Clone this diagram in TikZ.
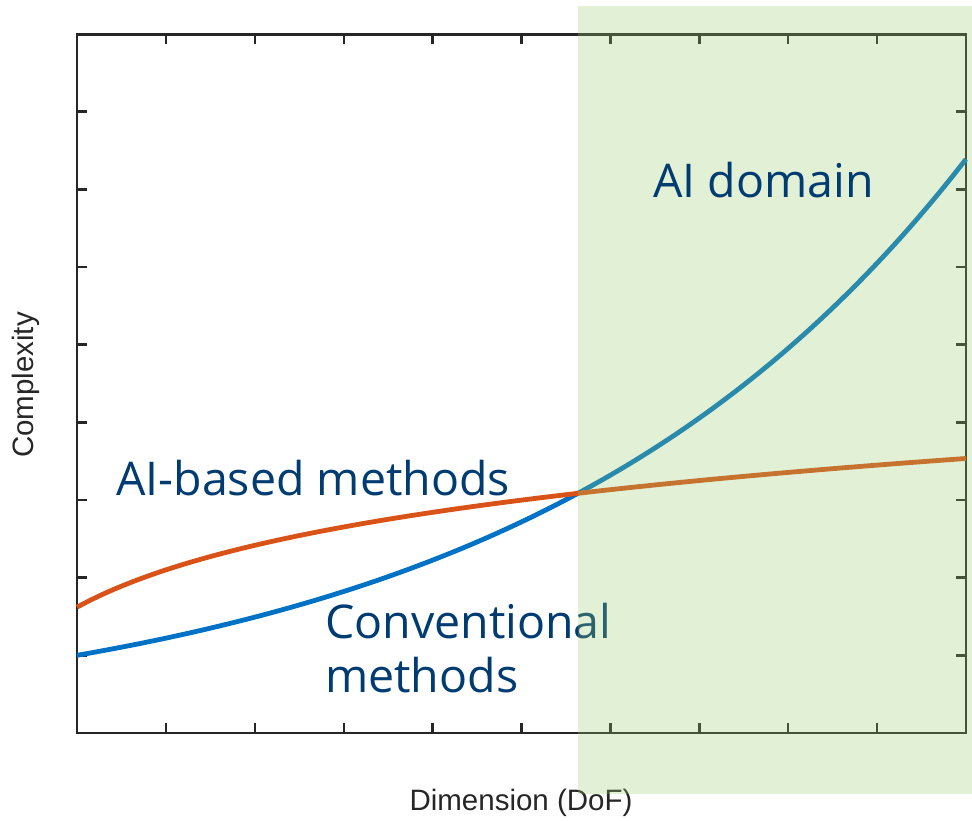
\documentclass[tikz,border=0pt]{standalone}
\usepackage{fontspec}
\setmainfont{Open Sans}
\newfontfamily\axisfont{Liberation Sans}
\definecolor{axisgray}{RGB}{38,38,38}
\definecolor{labelblue}{RGB}{0,59,113}
\definecolor{convblue}{RGB}{0,114,197}
\definecolor{aiorange}{RGB}{217,83,25}
\definecolor{domaingreen}{RGB}{151,201,109}
\tikzset{
  frame/.style={draw=axisgray, line width=2.4pt},
  tickmark/.style={draw=axisgray, line width=2.4pt},
  curve/.style={line width=4.8pt, smooth},
  seriesname/.style={text=labelblue, font=\fontsize{46.5}{54}\selectfont, anchor=base west, inner sep=0pt},
  axisname/.style={text=axisgray, font=\axisfont\fontsize{29.5}{34}\selectfont, inner sep=0pt},
}
\begin{document}
\begin{tikzpicture}[x=1pt,y=-1pt]
\useasboundingbox (0,0) rectangle (972,821);
% plot area: x in [0,10], y in [0,9]
\coordinate (ll) at (77,733);
\coordinate (ur) at (966,34.5);
\draw[frame] (77,34.5) rectangle (966,733);
% ticks on all four sides
\foreach \i in {1,...,9} {
  \pgfmathsetmacro{\tx}{77+88.9*\i}
  \draw[tickmark] (\tx,733) -- (\tx,723);
  \draw[tickmark] (\tx,34.5) -- (\tx,44.5);
}
\foreach \j in {1,...,8} {
  \pgfmathsetmacro{\ty}{733-77.67*\j}
  \draw[tickmark] (77,\ty) -- (87,\ty);
  \draw[tickmark] (966,\ty) -- (956,\ty);
}
% conventional methods: exponential growth
\draw[curve, convblue] plot[domain=0:10, samples=80] ({77+88.9*\x},{733-77.67*exp(0.2*\x)});
% AI-based methods: logarithmic growth
\draw[curve, aiorange] plot[domain=0:10, samples=80] ({77+88.9*\x},{733-77.67*(1.62+0.94*ln(1+\x/1.5))});
% series labels
\node[seriesname] (conv) at (325,638) {Conventional};
\node[seriesname] (convb) at (325,692) {methods};
\node[seriesname] (aib) at (116,495) {AI-based methods};
% axis titles
\node[axisname, rotate=90] (ylab) at (26,385) {Complexity};
\node[axisname] (xlab) at (521,803) {Dimension (DoF)};
% translucent AI domain region
\fill[domaingreen, fill opacity=0.28] (578,6) rectangle (972,794);
\node[seriesname] (aid) at (653,198) {AI domain};
\end{tikzpicture}
\end{document}
